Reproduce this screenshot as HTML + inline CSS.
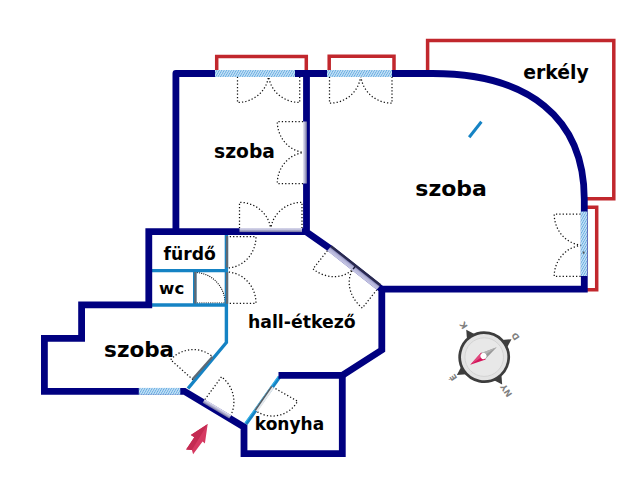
<!DOCTYPE html>
<html lang="hu"><head><meta charset="utf-8"><title>Alaprajz</title>
<style>html,body{margin:0;padding:0;background:#fff;}body{width:640px;height:480px;overflow:hidden;}svg{display:block;}text{font-family:"DejaVu Sans","Liberation Sans",sans-serif;font-weight:bold;fill:#000;}</style></head><body>
<svg width="640" height="480" viewBox="0 0 640 480">
<defs>
<pattern id="hatch" width="2.1" height="2.1" patternUnits="userSpaceOnUse" patternTransform="rotate(30)"><rect width="2.1" height="2.1" fill="#c8e3f8"/><rect width="0.85" height="2.1" fill="#66abdf"/></pattern>
<linearGradient id="pg" x1="0" y1="0" x2="0" y2="1"><stop offset="0" stop-color="#6f6f9c"/><stop offset="0.55" stop-color="#b9b9d6"/><stop offset="1" stop-color="#ececf6"/></linearGradient>
<linearGradient id="pg2" x1="0" y1="0" x2="0" y2="1"><stop offset="0" stop-color="#8c8cb8"/><stop offset="0.35" stop-color="#b4b4d8"/><stop offset="1" stop-color="#c9c9e6"/></linearGradient>
</defs>
<rect width="640" height="480" fill="#fff"/>
<g id="doors">
<path transform="translate(237.5 73.5) rotate(0)" d="M0,0 L0,29 A31.1,29 0 0 0 31.1,0 M62.2,0 L62.2,29 A31.1,29 0 0 1 31.1,0" fill="none" stroke="#111" stroke-width="1.25" stroke-dasharray="1.25 2.1"/>
<path transform="translate(329.5 73.5) rotate(0)" d="M0,0 L0,29.7 A31.25,29.7 0 0 0 31.25,0 M62.5,0 L62.5,29.7 A31.25,29.7 0 0 1 31.25,0" fill="none" stroke="#111" stroke-width="1.25" stroke-dasharray="1.25 2.1"/>
<path transform="translate(306.5 121.5) rotate(90)" d="M0,0 L0,29.2 A31.0,29.2 0 0 0 31.0,0 M62,0 L62,29.2 A31.0,29.2 0 0 1 31.0,0" fill="none" stroke="#111" stroke-width="1.25" stroke-dasharray="1.25 2.1"/>
<path transform="translate(239.5 231.7) rotate(0)" d="M0,0 L0,-29.4 A31.25,29.4 0 0 1 31.25,0 M62.5,0 L62.5,-29.4 A31.25,29.4 0 0 0 31.25,0" fill="none" stroke="#111" stroke-width="1.25" stroke-dasharray="1.25 2.1"/>
<path transform="translate(584.0 214.2) rotate(90)" d="M0,0 L0,29.8 A31.1,29.8 0 0 0 31.1,0 M62.2,0 L62.2,29.8 A31.1,29.8 0 0 1 31.1,0" fill="none" stroke="#111" stroke-width="1.25" stroke-dasharray="1.25 2.1"/>
<path transform="translate(329.5 248) rotate(38.3)" d="M0,0 L0,26.7 A31.5,26.7 0 0 0 31.5,0 M63,0 L63,26.7 A31.5,26.7 0 0 1 31.5,0" fill="none" stroke="#111" stroke-width="1.25" stroke-dasharray="1.25 2.1"/>
<path transform="translate(226.4 236.7) rotate(90)" d="M0,0 L0,-29.6 A31.3,29.6 0 0 1 31.3,0" fill="none" stroke="#111" stroke-width="1.25" stroke-dasharray="1.25 2.1"/>
<path transform="translate(226.4 303.3) rotate(-90)" d="M0,0 L0,29.6 A31.3,29.6 0 0 0 31.3,0" fill="none" stroke="#111" stroke-width="1.25" stroke-dasharray="1.25 2.1"/>
<path transform="translate(194.7 303.0) rotate(-90)" d="M0,0 L0,30.3 A30.5,30.3 0 0 0 30.5,0" fill="none" stroke="#111" stroke-width="1.1" stroke-dasharray="1.1 1.1"/>
<path transform="translate(193 379.7) rotate(-48.35)" d="M0,0 L0,-30 A30.2,30 0 0 1 30.2,0" fill="none" stroke="#111" stroke-width="1.25" stroke-dasharray="1.25 2.1"/>
<path d="M202.85,402.3 L221.5,376.9 A31.2,31.2 0 0 1 229.25,418.2" fill="none" stroke="#111" stroke-width="1.25" stroke-dasharray="1.25 2.1"/>
<path d="M272.6,387 L297.6,401.2 A28.9,28.9 0 0 1 256,411" fill="none" stroke="#111" stroke-width="1.25" stroke-dasharray="1.25 2.1"/>
</g>
<g fill="none" stroke="#c1272d" stroke-width="3.5" stroke-linejoin="miter">
<path d="M216.7,71 V56.5 H306.3 V71"/>
<path d="M329.2,71 V56.3 H394 V71"/>
<path d="M427.6,72 V40.6 H613.8 V198.8 H586"/>
<path d="M586,207.2 H596.7 V289.7 H586"/>
</g>
<g fill="none" stroke="#1583c4" stroke-width="3.4" stroke-linejoin="miter">
<path d="M150,270.6 H226.4"/>
<path d="M150,305 H226.4"/>
<path d="M226.4,233 V342.5 L188,388.5"/>
<path d="M194.7,270.6 V305"/>
<path d="M246,424 L279.6,377"/>
<path d="M244.9,423.2 L278.5,376.2" stroke="#35b0e6" stroke-width="1.2"/>
<path d="M469.2,137.2 L481.4,121.8" stroke-width="3"/>
</g>
<g fill="none" stroke="#000080" stroke-width="6.8" stroke-linejoin="miter" stroke-linecap="butt">
<path stroke-linejoin="round" d="M175.9,231.7 V73.5 H300"/>
<path d="M299,73.5 H432.5 C528.1,73.5 584.3,117.6 584.3,199.4 V289.2 H381.8"/>
<path d="M306.5,73.5 V232 L330,248.4 L381.8,289.3 V350 L342.3,375.4"/>
<path d="M278.5,375.4 H342.3 V453.6 H244 V427 L184.5,391.3 H44.4 V338.3 H81.6 V304.9 H148.8 V231.7 H306.5" />
</g>
<g fill="url(#hatch)">
<rect x="215" y="70" width="80" height="7"/>
<rect x="327" y="70" width="65" height="7"/>
<rect x="138.8" y="387.9" width="41.5" height="6.9"/>
<rect x="580.6" y="211.5" width="6.7" height="64.5"/>
</g>
<rect x="582.8" y="251.5" width="1.6" height="2.2" fill="#555"/>
<g id="panels">
<g transform="translate(306.5 121.5) rotate(90)"><rect x="0" y="-0.4" width="62" height="4" fill="url(#pg)"/></g>
<g transform="translate(239.5 231.7) rotate(0) scale(1 -1)"><rect x="0" y="-0.4" width="62.5" height="4" fill="url(#pg)"/></g>
<g transform="translate(329.5 248) rotate(38.3)"><rect x="0" y="-3.5" width="63" height="2.6" fill="#2a2a4e"/><rect x="0" y="-1.1" width="63" height="4.7" fill="url(#pg2)"/><rect x="30.9" y="-1.4" width="1.4" height="3.4" fill="#1a1a3a"/></g>
<g transform="translate(202.85 402.3) rotate(31) scale(1 -1)"><rect x="0" y="-0.4" width="31" height="4" fill="url(#pg)"/></g>
<g transform="translate(226.4 236.0) rotate(90) scale(1 -1)"><rect x="0" y="-0.5" width="31.5" height="2.3" fill="#5d6974"/></g>
<g transform="translate(226.4 303.8) rotate(-90) scale(1 1)"><rect x="0" y="-0.5" width="31.5" height="2.3" fill="#5d6974"/></g>
<g transform="translate(194.7 303.5) rotate(-90) scale(1 1)"><rect x="0" y="-0.5" width="31.5" height="2.3" fill="#5d6974"/></g>
<g transform="translate(193 379.7) rotate(-48.35) scale(1 -1)"><rect x="0" y="-0.5" width="30.2" height="2.3" fill="#5d6974"/></g>
<g transform="translate(272.6 387) rotate(124.67) scale(1 -1)"><rect x="0" y="-1.8" width="29" height="3.6" fill="#e4e7ea"/><rect x="0" y="-1.8" width="29" height="1.5" fill="#4f5a63"/></g>
</g>
<text x="244.5" y="158.1" font-size="18.7" text-anchor="middle">szoba</text>
<text x="451.1" y="195.9" font-size="22" text-anchor="middle">szoba</text>
<text x="139.1" y="357.0" font-size="21.5" text-anchor="middle">szoba</text>
<text x="189.7" y="259.5" font-size="17.2" text-anchor="middle">fürdő</text>
<text x="171.7" y="294.0" font-size="16.6" text-anchor="middle">wc</text>
<text x="301.8" y="328.1" font-size="17.3" text-anchor="middle">hall-étkező</text>
<text x="289.5" y="429.6" font-size="17" text-anchor="middle">konyha</text>
<text x="556.0" y="79.3" font-size="18.8" text-anchor="middle">erkély</text>
<g id="arrow">
<path d="M207.7,424.1 L190.8,435 L194.3,437.2 L186.1,449.6 L191.9,450.1 L193.1,454.3 L202.6,441.4 L204.9,443.5 Z" fill="#d63a62"/>
<path d="M207.7,424.1 L190.8,435 L194.3,437.2 L186.1,449.6 L191.9,450.1 Z" fill="#c42b52"/>
</g>
<g id="compass" transform="translate(484.2 357.1) rotate(-123.3)">
<g fill="#3d3d3d">
<path transform="rotate(0)" d="M-4.7,-24.2 L0,-32.7 L4.7,-24.2 Z"/>
<path transform="rotate(90)" d="M-4.7,-24.2 L0,-32.7 L4.7,-24.2 Z"/>
<path transform="rotate(180)" d="M-4.7,-24.2 L0,-32.7 L4.7,-24.2 Z"/>
<path transform="rotate(270)" d="M-4.7,-24.2 L0,-32.7 L4.7,-24.2 Z"/>
</g>
<circle r="24.5" fill="#e3e3e3" stroke="#3d3d3d" stroke-width="2.7"/>
<circle r="19.3" fill="#e8e8e8" stroke="#d3d3d3" stroke-width="0.9"/>
<g transform="translate(1.3 0)">
<path d="M0,-15.8 L-4.1,0 L4.1,0 Z" fill="#d4145a"/><path d="M0,-15.8 L0,0 L4.1,0 Z" fill="#e0487d"/>
<path d="M0,15.8 L-3.6,0 L3.6,0 Z" fill="#989898"/><path d="M0,15.8 L0,0 L3.6,0 Z" fill="#b2b2b2"/>
<circle r="3" fill="#fff"/>
</g>
<g font-size="8.6" text-anchor="middle">
<text x="0" y="-34" style="fill:#808080">É</text>
<text x="37.8" y="3.1" style="fill:#808080">K</text>
<text x="0" y="40.6" style="fill:#808080">D</text>
<text x="-40" y="3.1" style="fill:#808080">NY</text>
</g></g>
</svg></body></html>
